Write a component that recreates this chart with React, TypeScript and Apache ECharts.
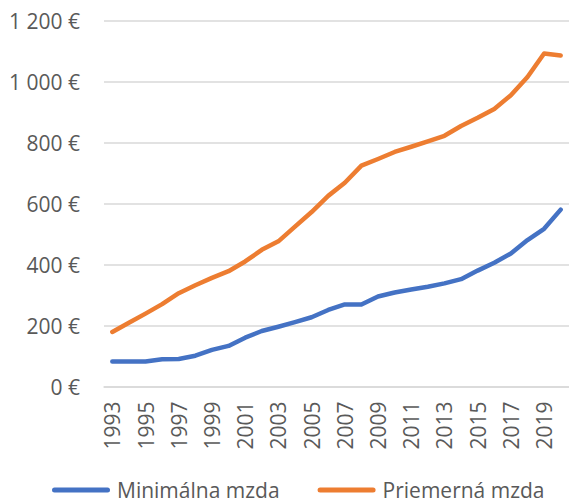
import React, { useEffect, useRef } from "react";
import * as echarts from "echarts";

const years = [
  "1993", "1994", "1995", "1996", "1997", "1998", "1999", "2000", "2001", "2002",
  "2003", "2004", "2005", "2006", "2007", "2008", "2009", "2010", "2011", "2012",
  "2013", "2014", "2015", "2016", "2017", "2018", "2019", "2020",
];

const minWage = [
  82, 82, 82, 89, 90, 101, 120, 133, 160, 182,
  196, 211, 227, 251, 269, 269, 295, 308, 318, 327,
  338, 352, 380, 406, 436, 480, 517, 580,
];

const avgWage = [
  179, 209, 239, 270, 306, 332, 356, 378, 410, 448,
  476, 524, 572, 625, 668, 724, 746, 769, 786, 804,
  822, 854, 881, 910, 955, 1015, 1092, 1085,
];

const yTicks = [0, 200, 400, 600, 800, 1000, 1200];

const seriesNames = ["Minimálna mzda", "Priemerná mzda"];

const FONT = "'Open Sans', 'Noto Sans', sans-serif";
const TEXT = "#595959";

const capsule =
  "path://M2.5,0 H55.5 A2.5,2.5 0 0 1 55.5,5 H2.5 A2.5,2.5 0 0 1 2.5,0 Z";

function fmt(v: number): string {
  const s = String(v);
  const withSpace = s.length > 3 ? s.slice(0, s.length - 3) + " " + s.slice(-3) : s;
  return withSpace + " €";
}

export default function App() {
  const ref = useRef<HTMLDivElement>(null);

  useEffect(() => {
    if (!ref.current) return;
    const chart = echarts.init(ref.current, undefined, { renderer: "svg" });
    chart.setOption({
      animation: false,
      backgroundColor: "#ffffff",
      grid: {
        left: 104,
        top: 20.5,
        width: 468,
        height: 366,
        containLabel: false,
      },
      legend: {
        left: 52,
        top: 479,
        padding: 0,
        itemWidth: 58,
        itemHeight: 5,
        itemGap: 38,
        icon: capsule,
        data: seriesNames,
        textStyle: {
          color: TEXT,
          fontFamily: FONT,
          fontSize: 21,
          lineHeight: 22,
          padding: [0, 0, 0, 2],
        },
      },
      xAxis: {
        type: "category",
        data: years,
        boundaryGap: true,
        axisLine: { show: true, lineStyle: { color: "#d9d9d9", width: 1.5 } },
        axisTick: { show: false },
        axisLabel: {
          interval: 1,
          rotate: 90,
          margin: 15,
          color: TEXT,
          fontFamily: FONT,
          fontSize: 21,
        },
        splitLine: { show: false },
      },
      yAxis: {
        type: "value",
        min: yTicks[0],
        max: yTicks[yTicks.length - 1],
        interval: 200,
        axisLine: { show: false },
        axisTick: { show: false },
        axisLabel: {
          margin: 24,
          color: TEXT,
          fontFamily: FONT,
          fontSize: 21,
          formatter: (v: number) => fmt(v),
        },
        splitLine: { show: true, lineStyle: { color: "#d9d9d9", width: 1.5 } },
      },
      series: [
        {
          name: seriesNames[0],
          type: "line",
          data: minWage,
          showSymbol: false,
          symbol: "none",
          color: "#4472C4",
          lineStyle: { color: "#4472C4", width: 4.5, cap: "round", join: "round" },
        },
        {
          name: seriesNames[1],
          type: "line",
          data: avgWage,
          showSymbol: false,
          symbol: "none",
          color: "#ED7D31",
          lineStyle: { color: "#ED7D31", width: 4.5, cap: "round", join: "round" },
        },
      ],
    });
    return () => chart.dispose();
  }, []);

  return (
    <div
      ref={ref}
      style={{ position: "absolute", left: 0, top: 0, width: 569, height: 504, background: "#fff" }}
    />
  );
}
